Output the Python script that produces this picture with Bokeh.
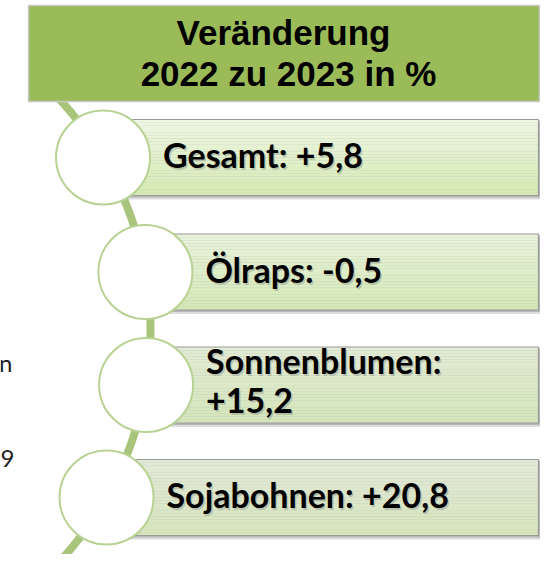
import numpy as np
from bokeh.plotting import figure
from bokeh.models import Range1d
from bokeh.core.properties import value
from bokeh.embed import file_html
from bokeh.resources import INLINE

# ---- data ----
title_lines = ["Veränderung", "2022 zu 2023 in %"]
categories = ["Gesamt", "Ölraps", "Sonnenblumen", "Sojabohnen"]
changes = [5.8, -0.5, 15.2, 20.8]
wrap_label = [False, False, True, False]
side_fragments = ["n", "9"]

def fmt(v):
    return f"{v:+.1f}".replace(".", ",")

# ---- layout (pixel coordinates of the picture) ----
W, H = 540, 554
box_cy = [157, 271.5, 384.5, 497]
box_half_h = 38
box_right = 538
circle_r = 47
arc_cx, arc_cy, arc_R = -189.0, 330.0, 339.0
LAB_SIZE = 34
HEAD_SIZE = 35

def arc_x(y):
    return arc_cx + np.sqrt(arc_R ** 2 - (np.asarray(y) - arc_cy) ** 2)

def bl(y, size):
    # compensate renderer baseline offset
    return y - 0.4 * size

circle_x = [float(arc_x(y)) for y in box_cy]

p = figure(width=W, height=H,
           x_range=Range1d(0, W), y_range=Range1d(H, 0),
           output_backend="svg", toolbar_location=None, min_border=0)
p.axis.visible = False
p.grid.visible = False
p.outline_line_color = None
p.background_fill_color = "white"
p.border_fill_color = "white"

# connecting arc
ys = np.linspace(80, 580, 200)
p.line(arc_x(ys), ys, line_color="#A9C57B", line_width=8)

# boxes: shadow, gradient fill, border
tops = ["#EEF6E4", "#E8F2DA", "#E2EBD4", "#E2E8D8"]
bots = ["#D5EBB3", "#D4E9B6", "#D4E6BA", "#D6E6BC"]

def hex2rgb(h):
    return np.array([int(h[i:i + 2], 16) for i in (1, 3, 5)], dtype=float)

for i, cy in enumerate(box_cy):
    left = circle_x[i]
    top = cy - box_half_h
    bot = cy + box_half_h
    p.quad(left=left + 2, right=box_right + 3, top=top + 3, bottom=bot + 4,
           fill_color="#909090", fill_alpha=0.3, line_color=None)
    p.quad(left=left + 1, right=box_right + 1.5, top=top + 1, bottom=bot + 2,
           fill_color="#707070", fill_alpha=0.35, line_color=None)
    n = 24
    edges = np.linspace(top, bot, n + 1)
    c0, c1 = hex2rgb(tops[i]), hex2rgb(bots[i])
    cols = []
    for k in range(n):
        t = k / (n - 1)
        c = (c0 * (1 - t) + c1 * t).round().astype(int)
        cols.append("#%02x%02x%02x" % tuple(c))
    p.quad(left=[left] * n, right=[box_right] * n, top=edges[:-1], bottom=edges[1:],
           fill_color=cols, line_color=None)
    p.quad(left=left, right=box_right, top=top, bottom=bot,
           fill_color=None, line_color="#9A9A9A", line_width=1.2)

# circles
p.circle(x=circle_x, y=box_cy, radius=circle_r, fill_color="white",
         line_color="#B7D292", line_width=2)

# labels
lab_font = value("Lato")
for i, (cat, v) in enumerate(zip(categories, changes)):
    tx = circle_x[i] + 60
    if wrap_label[i]:
        lines = [f"{cat}:", fmt(v)]
        bls = [box_cy[i] - 11, box_cy[i] + 29]
    else:
        lines = [f"{cat}: {fmt(v)}"]
        bls = [box_cy[i] + 11]
    for ln, b in zip(lines, bls):
        yb = bl(b, LAB_SIZE)
        p.text(x=[tx + 1.5], y=[yb + 2], text=[ln], text_font=lab_font,
               text_font_style="bold", text_font_size=f"{LAB_SIZE}px", text_color="#666666",
               text_alpha=0.28, text_baseline="alphabetic", text_align="left")
        p.text(x=[tx], y=[yb], text=[ln], text_font=lab_font,
               text_font_style="bold", text_font_size=f"{LAB_SIZE}px", text_color="#000000",
               text_baseline="alphabetic", text_align="left")

# header box
p.quad(left=28, right=539, top=5, bottom=101, fill_color="#9BBB59",
       line_color="#C8C8C8", line_width=1.5)
p.text(x=[283, 288], y=[bl(46, HEAD_SIZE), bl(87, HEAD_SIZE)], text=title_lines,
       text_font=value("Liberation Sans"),
       text_font_style="bold", text_font_size=f"{HEAD_SIZE}px", text_color="#000000",
       text_baseline="alphabetic", text_align="center")

# text fragments at the left edge
p.text(x=[12, 0], y=[bl(372, 24), bl(468, 24)], text=side_fragments, text_font=value("Lato"),
       text_font_size="24px", text_color="#222222",
       text_baseline="alphabetic", text_align=["right", "left"])

open("out.html", "w").write(file_html(p, INLINE))
